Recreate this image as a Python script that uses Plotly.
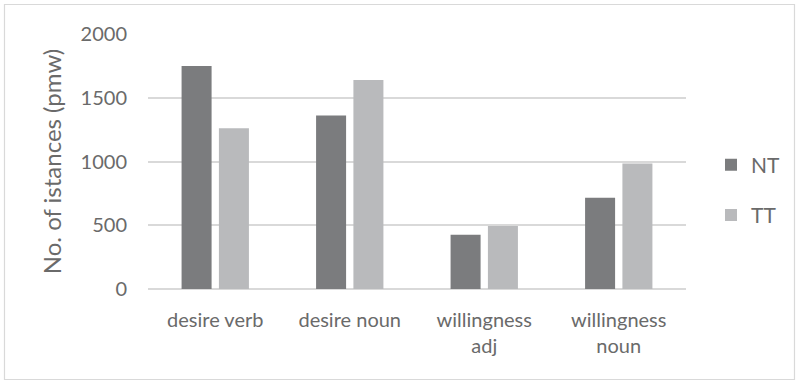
import plotly.graph_objects as go

# Instances per million words, by construction type
categories = ["desire verb", "desire noun", "willingness<br>adj", "willingness<br>noun"]
nt_values = [1750, 1360, 425, 715]
tt_values = [1260, 1640, 495, 985]
y_ticks = [0, 500, 1000, 1500, 2000]

NT_COLOR = "#7b7c7e"
TT_COLOR = "#b9babc"
TEXT_COLOR = "#6a6a6a"
GRID_COLOR = "#d9d9d9"
FONT = "Lato, 'Open Sans', sans-serif"

W, H = 798, 381
L, R, T, B = 148, 112, 34, 92
plot_w = W - L - R
plot_h = H - T - B

fig = go.Figure()
fig.add_trace(go.Bar(name="NT", x=categories, y=nt_values, marker_color=NT_COLOR,
                     marker_line_width=0, legendgroup="nt"))
fig.add_trace(go.Bar(name="TT", x=categories, y=tt_values, marker_color=TT_COLOR,
                     marker_line_width=0, legendgroup="tt"))

# Light frame around the whole chart area (paper coords extended beyond the plot)
def px_x(p):
    return (p - L) / plot_w

def px_y(p):
    return (H - B - p) / plot_h

fig.add_shape(type="rect", xref="paper", yref="paper",
              x0=px_x(4.5), x1=px_x(794.5), y0=px_y(379.5), y1=px_y(4.5),
              line=dict(color=GRID_COLOR, width=1.2), layer="below")

fig.update_layout(
    width=W, height=H,
    margin=dict(l=L, r=R, t=T, b=B, pad=0),
    paper_bgcolor="white", plot_bgcolor="white",
    barmode="group", bargap=0.445, bargroupgap=0.196,
    font=dict(family=FONT, color=TEXT_COLOR, size=20),
    showlegend=True,
    legend=dict(
        x=px_x(711), y=px_y(190), xanchor="left", yanchor="middle",
        traceorder="grouped", tracegroupgap=20,
        font=dict(size=21, color=TEXT_COLOR), bgcolor="rgba(0,0,0,0)",
    ),
)
fig.update_xaxes(
    showgrid=False, showline=False, ticks="", zeroline=False,
    tickfont=dict(size=20, color=TEXT_COLOR), ticklabelstandoff=17,
)
fig.update_yaxes(
    range=[0, 2000], tickvals=y_ticks, showgrid=True, gridcolor=GRID_COLOR, gridwidth=1.5,
    zeroline=True, zerolinecolor=GRID_COLOR, zerolinewidth=1.5, showline=False, ticks="",
    tickfont=dict(size=20, color=TEXT_COLOR), ticklabelstandoff=20,
    title=dict(text="No. of istances (pmw)", font=dict(size=24, color=TEXT_COLOR), standoff=12),
)

fig.write_html("out.html")
